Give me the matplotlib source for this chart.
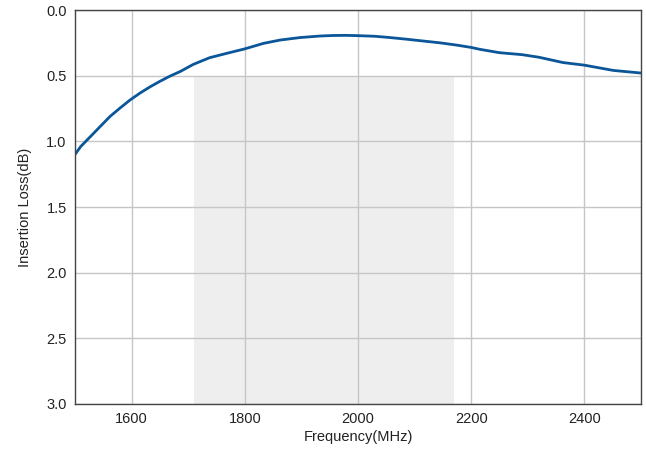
import matplotlib
matplotlib.use("Agg")
import matplotlib.pyplot as plt

plt.rcParams['font.family'] = ['Liberation Sans', 'DejaVu Sans']

freq = [1500, 1510, 1527, 1545, 1562, 1580, 1597, 1615, 1633, 1650, 1668, 1686, 1709, 1738,
        1768, 1799, 1833, 1862, 1897, 1933, 1956, 1978, 1998, 2030, 2057, 2085,
        2115, 2145, 2174, 2200, 2216, 2250, 2290, 2320, 2362, 2400, 2451, 2500]
loss = [1.10, 1.04, 0.965, 0.885, 0.81, 0.745, 0.686, 0.632, 0.584, 0.543, 0.503, 0.468, 0.414, 0.363,
        0.33, 0.297, 0.254, 0.229, 0.21, 0.198, 0.194, 0.193, 0.195, 0.200, 0.21, 0.222,
        0.236, 0.25, 0.267, 0.285, 0.30, 0.325, 0.34, 0.36, 0.40, 0.42, 0.46, 0.48]
band_start, band_end, band_top = 1710, 2170, 0.5
xticks = [1600, 1800, 2000, 2200, 2400]
yticks = [0.0, 0.5, 1.0, 1.5, 2.0, 2.5, 3.0]

fig = plt.figure(figsize=(6.46, 4.55), dpi=100)
ax = fig.add_axes([0.1161, 0.1121, 0.8762, 0.8659])

ax.fill_between([band_start, band_end], band_top, 3.0, color='#eeeeee', zorder=0, lw=0)
ax.plot(freq, loss, color='#0a5699', lw=2.0, zorder=3, solid_capstyle='butt',
        solid_joinstyle='round')

ax.set_xlim(1500, 2500)
ax.set_ylim(3.0, 0.0)
ax.set_xticks(xticks)
ax.set_yticks(yticks)
ax.set_yticklabels([f"{v:.1f}" for v in yticks])
ax.grid(True, color='#c6c6c6', lw=1.0, zorder=1)
ax.set_axisbelow(False)
for l in ax.get_xgridlines() + ax.get_ygridlines():
    l.set_zorder(1)
ax.tick_params(length=0, labelsize=10.5, colors='#222222', pad=6)
for s in ax.spines.values():
    s.set_color('#444444')
    s.set_linewidth(1.0)
    s.set_zorder(4)
ax.set_xlabel('Frequency(MHz)', fontsize=10.5, color='#222222', labelpad=3)
ax.set_ylabel('Insertion Loss(dB)', fontsize=10.5, color='#222222', labelpad=10)

fig.savefig('out.png', dpi=100)
